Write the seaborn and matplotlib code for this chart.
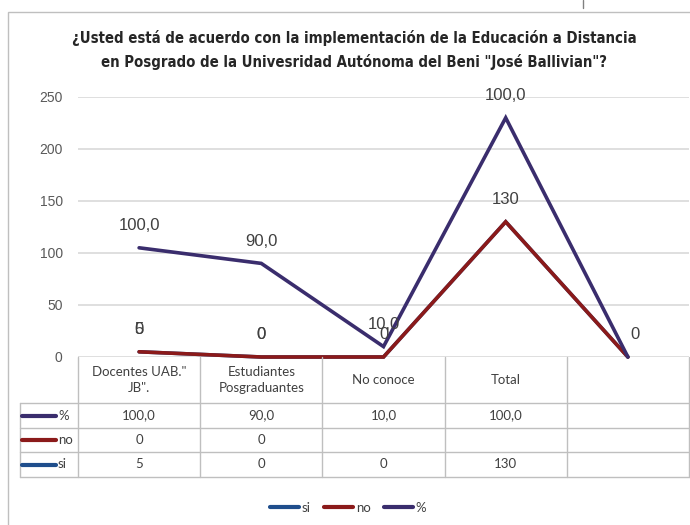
import numpy as np
import pandas as pd
import matplotlib.pyplot as plt
import seaborn as sns
from matplotlib.lines import Line2D
from matplotlib.patches import Rectangle

# data
categories = ['Docentes UAB."\nJB".', 'Estudiantes\nPosgraduantes', 'No conoce', 'Total', '']
si = [5, 0, 0, 130, np.nan]
no = [0, 0, np.nan, np.nan, np.nan]
pct = [100.0, 90.0, 10.0, 100.0, np.nan]
series_names = ['si', 'no', '%']
colors = {'si': '#1f4e8c', 'no': '#8b1a1a', '%': '#3a2d6d'}

sns.set_style('white')
plt.rcParams['font.family'] = ['Liberation Sans', 'DejaVu Sans']

# stacked line chart (Excel style)
si_s = np.nan_to_num(si)
no_s = si_s + np.nan_to_num(no)
pct_s = no_s + np.nan_to_num(pct)
n = len(categories)
df = pd.DataFrame({
    'pos': list(range(n)) * 3,
    'valor': np.concatenate([si_s, no_s, pct_s]),
    'serie': ['si'] * n + ['no'] * n + ['%'] * n,
})

fig = plt.figure(figsize=(6.9, 5.25), dpi=100)
ax = fig.add_axes([78 / 690, 1 - 357 / 525, 611 / 690, 260 / 525])
sns.lineplot(data=df, x='pos', y='valor', hue='serie', hue_order=series_names,
             palette=colors, linewidth=2.6, legend=False, ax=ax)
for l in ax.lines:
    l.set_clip_on(False)
    l.set_solid_joinstyle('miter')
ax.set_xlim(-0.5, n - 0.5)
ax.set_ylim(0, 250)
ax.set_yticks(range(0, 251, 50))
ax.set_xticks([])
ax.set_xlabel('')
ax.set_ylabel('')
ax.grid(axis='y', color='#d9d9d9', lw=1.2)
sns.despine(ax=ax, left=True, bottom=True)
ax.tick_params(axis='y', length=0, pad=11, labelsize=10, labelcolor='#595959')


def fmt(v, dec):
    return f'{v:.{dec}f}'.replace('.', ',')


lab_kw = dict(textcoords='offset points', ha='center', va='center', fontsize=12, color='#404040')
for i in range(n):
    if not np.isnan(si[i]):
        ax.annotate(str(int(si[i])), (i, si_s[i]), xytext=(0, 16), **lab_kw)
    if not np.isnan(no[i]):
        ax.annotate(str(int(no[i])), (i, no_s[i]), xytext=(0, 16), **lab_kw)
    txt = fmt(pct[i], 1) if not np.isnan(pct[i]) else '0'
    off = (0, 16) if not np.isnan(pct[i]) else (5, 16)
    ax.annotate(txt, (i, pct_s[i]), xytext=off, **lab_kw)

# data table under the chart
tax = fig.add_axes([20 / 690, 1 - 477 / 525, 669 / 690, 120 / 525])
left = -0.5 - 58 / 122.2
tax.set_xlim(left, n - 0.5)
tax.set_ylim(120, 0)
tax.axis('off')
gc = '#bfbfbf'
rows_y = [46, 71, 95, 120]
for y in rows_y:
    tax.plot([left, n - 0.5], [y, y], color=gc, lw=1, clip_on=False)
for x in np.arange(-0.5, n, 1.0):
    tax.plot([x, x], [0, 120], color=gc, lw=1, clip_on=False)
tax.plot([left, left], [46, 120], color=gc, lw=1, clip_on=False)

tbl_kw = dict(ha='center', va='center', fontsize=9.5, color='#404040', family=['Lato', 'DejaVu Sans'])
for i, c in enumerate(categories):
    tax.text(i, 23, c, linespacing=1.3, **tbl_kw)

row_vals = {
    '%': [fmt(v, 1) if not np.isnan(v) else '' for v in pct],
    'no': [str(int(v)) if not np.isnan(v) else '' for v in no],
    'si': [str(int(v)) if not np.isnan(v) else '' for v in si],
}
row_centers = [58.5, 83, 107.5]
for yc, s in zip(row_centers, ['%', 'no', 'si']):
    tax.plot([left + 2 / 122.2, left + 36 / 122.2], [yc, yc], color=colors[s], lw=3,
             solid_capstyle='round', clip_on=False)
    tax.text(left + 38 / 122.2, yc, s, ha='left', va='center', fontsize=9.5,
             color='#404040', family=['Lato', 'DejaVu Sans'])
    for i, v in enumerate(row_vals[s]):
        tax.text(i, yc, v, **tbl_kw)

# legend
handles = [Line2D([], [], color=colors[s], lw=3) for s in series_names]
fig.legend(handles, series_names, loc='center', bbox_to_anchor=(348 / 690, 1 - 508 / 525),
           ncol=3, frameon=False, handlelength=2.2, handletextpad=0.2, columnspacing=1.0,
           prop={'family': ['Lato', 'DejaVu Sans'], 'size': 9.5}, labelcolor='#404040')

# title
fig.text(354 / 690, 1 - 50 / 525,
         '¿Usted está de acuerdo con la implementación de la Educación a Distancia\n'
         'en Posgrado de la Univesridad Autónoma del Beni "José Ballivian"?',
         ha='center', va='center', fontsize=10.7, fontweight='bold', linespacing=1.65,
         color='#262626', family=['DejaVu Sans'], fontstretch='condensed')

# outer frame
fig.add_artist(Rectangle((8 / 690, -0.01), 1, 1 - 12 / 525 + 0.01, transform=fig.transFigure,
                         fill=False, ec=gc, lw=1))
fig.add_artist(Line2D([583 / 690, 583 / 690], [1, 1 - 8 / 525], transform=fig.transFigure,
                      color='#808080', lw=1))

fig.savefig('out.png', dpi=100)
